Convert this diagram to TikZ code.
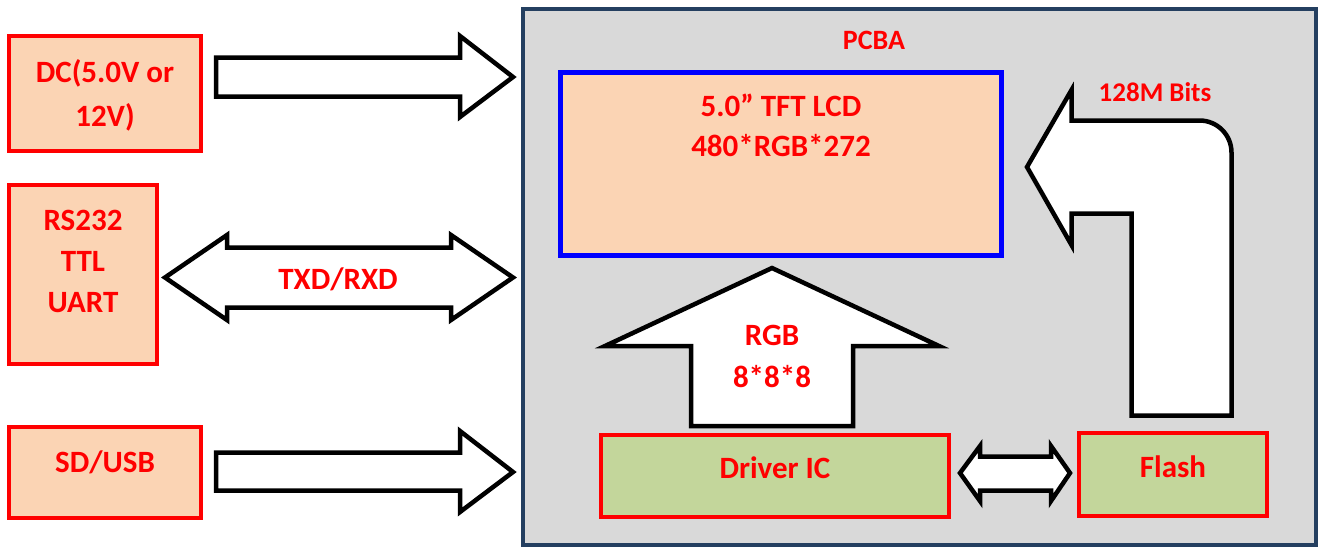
\documentclass[tikz,border=0pt]{standalone}
\usepackage{fontspec}
\setmainfont{Carlito}
\definecolor{boxred}{HTML}{FF0000}
\definecolor{peach}{HTML}{FBD4B4}
\definecolor{olive}{HTML}{C3D69B}
\definecolor{pcbgray}{HTML}{D9D9D9}
\definecolor{pcbframe}{HTML}{243F60}
\definecolor{lcdblue}{HTML}{0000FF}
\tikzset{
  redbox/.style={rectangle, draw=boxred, line width=4.5pt, inner sep=0pt, outer sep=0pt},
  txt/.style={text=boxred, font=\bfseries\fontsize{31}{44}\selectfont, align=center, inner sep=0pt},
  blockarrow/.style={draw=black, fill=white, line width=4.5pt, line join=miter},
}
\begin{document}
\begin{tikzpicture}[x=1pt,y=-1pt]
\useasboundingbox (0,0) rectangle (1320,549);

% board
\node[rectangle, draw=pcbframe, fill=pcbgray, line width=3.5pt, minimum width=793, minimum height=536] (pcba) at (919.5,277) {};
\node[txt, font=\bfseries\fontsize{28}{34}\selectfont] (pcbatext) at (874,40) {PCBA};

\node[rectangle, draw=lcdblue, fill=peach, line width=5pt, minimum width=441, minimum height=183] (lcd) at (781,164) {};
\node[txt, font=\bfseries\fontsize{31}{40}\selectfont] (lcdtext) at (781,125) {5.0” TFT LCD\\480*RGB*272};

% left side
\node[redbox, fill=peach, minimum width=192, minimum height=115] (dc) at (105,93.5) {};
\node[txt] (dctext) at (105,95) {DC(5.0V or\\12V)};

\node[redbox, fill=peach, minimum width=148, minimum height=179] (uart) at (83,274.5) {};
\node[txt, font=\bfseries\fontsize{31}{41}\selectfont] (uarttext) at (83,261) {RS232\\TTL\\UART};

\node[redbox, fill=peach, minimum width=192, minimum height=91] (sd) at (105,472.5) {};
\node[txt] (sdtext) at (105,462) {SD/USB};

\draw[blockarrow] (216,57.5) -- (460,57.5) -- (460,36) -- (513,77) -- (460,117) -- (460,96.5) -- (216,96.5) -- cycle;
\draw[blockarrow] (216,452.5) -- (460,452.5) -- (460,431) -- (513,472) -- (460,512) -- (460,490.5) -- (216,490.5) -- cycle;
\draw[blockarrow] (165,277.5) -- (227,235) -- (227,247.5) -- (451,247.5) -- (451,235) -- (513,277.5)
  -- (451,320) -- (451,307.5) -- (227,307.5) -- (227,320) -- cycle;
\node[txt] (txdrxd) at (338,279) {TXD/RXD};

% inside the board
\node[redbox, fill=olive, minimum width=348, minimum height=82] (drv) at (775,476) {};
\node[txt] (drvtext) at (775,468) {Driver IC};

\node[redbox, fill=olive, minimum width=188, minimum height=83] (flash) at (1173,474.5) {};
\node[txt] (flashtext) at (1173,467) {Flash};

\draw[blockarrow] (772,268) -- (939,346) -- (853,346) -- (853,426) -- (691,426) -- (691,346) -- (605,346) -- cycle;
\node[txt, font=\bfseries\fontsize{31}{42}\selectfont] (rgbtext) at (772,356) {RGB\\8*8*8};

\draw[blockarrow] (960,473) -- (980,446) -- (980,456.5) -- (1051,456.5) -- (1051,446) -- (1070,473)
  -- (1051,501) -- (1051,490.5) -- (980,490.5) -- (980,501) -- cycle;

\draw[blockarrow] (1027,167) -- (1071.5,90) -- (1071.5,120.5) -- (1199.5,120.5)
  .. controls (1217.2,120.5) and (1231.5,134.8) .. (1231.5,152.5)
  -- (1231.5,415.5) -- (1131.5,415.5) -- (1131.5,213.5) -- (1071.5,213.5) -- (1071.5,245) -- cycle;
\node[txt, font=\bfseries\fontsize{27}{32}\selectfont] (bitstext) at (1155,92) {128M Bits};

\end{tikzpicture}
\end{document}
